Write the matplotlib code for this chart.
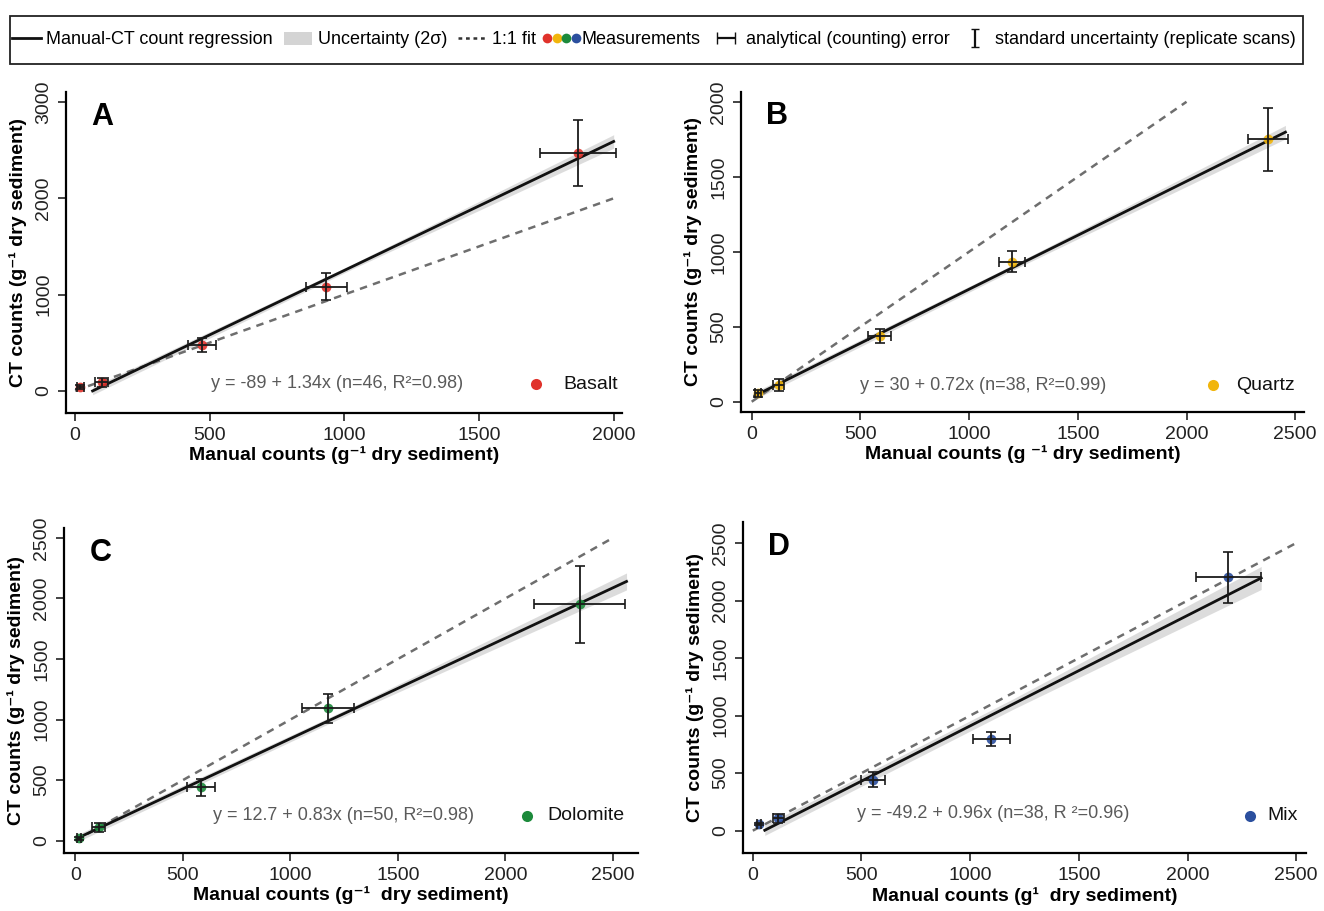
import numpy as np
import matplotlib
matplotlib.use("Agg")
import matplotlib.pyplot as plt
from matplotlib.lines import Line2D
from matplotlib.patches import Patch, Rectangle
from matplotlib.legend_handler import HandlerBase

plt.rcParams["font.family"] = ["Liberation Sans", "DejaVu Sans"]
NARROW = ["Liberation Sans Narrow", "Liberation Sans", "DejaVu Sans"]

# ── Data ────────────────────────────────────────────────────────────────────
panels = ["A", "B", "C", "D"]
materials = ["Basalt", "Quartz", "Dolomite", "Mix"]
colors = ["#e0322b", "#f1b50c", "#1c8a3b", "#2b4f9e"]

manual_A = [20, 99, 471, 933, 1867]
ct_A = [35, 87, 474, 1080, 2470]
xerr_A = [12, 25, 52, 77, 141]
yerr_A = [20, 50, 75, 140, 340]

manual_B = [29, 124, 588, 1198, 2373]
ct_B = [56, 111, 438, 933, 1749]
xerr_B = [15, 25, 51, 61, 92]
yerr_B = [25, 38, 47, 69, 210]

manual_C = [16, 109, 585, 1176, 2345]
ct_C = [19, 110, 440, 1092, 1952]
xerr_C = [10, 30, 65, 120, 211]
yerr_C = [12, 40, 69, 118, 316]

manual_D = [29, 118, 553, 1097, 2188]
ct_D = [58, 107, 441, 798, 2204]
xerr_D = [10, 25, 54, 85, 149]
yerr_D = [12, 40, 65, 59, 222]

# regression: intercept, slope, x-range of the fitted line
intercepts = [-89, 30, 12.7, -49.2]
slopes = [1.34, 0.72, 0.83, 0.96]
fit_x0 = [65, 15, 10, 55]
fit_x1 = [2000, 2455, 2563, 2339]
one_to_one_max = [2000, 2000, 2500, 2500]

# 2-sigma band half widths at start / middle / end of the fitted line
band_hw = [[40, 25, 70], [25, 18, 45], [30, 25, 70], [45, 45, 100]]

equations = [
    "y = -89 + 1.34x (n=46, R²=0.98)",
    "y = 30 + 0.72x (n=38, R²=0.99)",
    "y = 12.7 + 0.83x (n=50, R²=0.98)",
    "y = -49.2 + 0.96x (n=38, R ²=0.96)",
]
xlabels = [
    "Manual counts (g⁻¹ dry sediment)",
    "Manual counts (g ⁻¹ dry sediment)",
    "Manual counts (g⁻¹  dry sediment)",
    "Manual counts (g¹  dry sediment)",
]
ylabel = "CT counts (g⁻¹ dry sediment)"

xticks = [[0, 500, 1000, 1500, 2000], [0, 500, 1000, 1500, 2000, 2500],
          [0, 500, 1000, 1500, 2000, 2500], [0, 500, 1000, 1500, 2000, 2500]]
yticks = [[0, 1000, 2000, 3000], [0, 500, 1000, 1500, 2000],
          [0, 500, 1000, 1500, 2000, 2500], [0, 500, 1000, 1500, 2000, 2500]]
xlims = [(-34, 2031), (-49, 2541), (-53, 2614), (-45, 2545)]
ylims = [(-228, 3105), (-67, 2067), (-99, 2578), (-197, 2685)]

# annotation anchors (data coords): equation x,y ; legend dot x,y ; name x
eq_pos = [(505, 76), (500, 111), (640, 212), (479, 151)]
key_pos = [(1713, 69, 1812), (2122, 111, 2226), (2100, 204, 2193), (2286, 128, 2368)]

# axes rectangles in figure fraction [left, bottom, width, height]
rects = [
    [0.0498, 0.547, 0.420, 0.352],
    [0.5597, 0.548, 0.4253, 0.3513],
    [0.0483, 0.064, 0.4332, 0.356],
    [0.5612, 0.0633, 0.4252, 0.364],
]

data = [
    (manual_A, ct_A, xerr_A, yerr_A),
    (manual_B, ct_B, xerr_B, yerr_B),
    (manual_C, ct_C, xerr_C, yerr_C),
    (manual_D, ct_D, xerr_D, yerr_D),
]


class FourDots(HandlerBase):
    """legend key: the four material colours side by side"""
    def create_artists(self, legend, orig_handle, xdescent, ydescent,
                       width, height, fontsize, trans):
        arts = []
        y = -ydescent + height / 2
        for k, c in enumerate(colors):
            x = -xdescent + width * k / 3.0
            ln = Line2D([x], [y], marker="o", ls="none", color=c, ms=7, mew=0)
            ln.set_transform(trans)
            arts.append(ln)
        return arts


fig = plt.figure(figsize=(13.24, 9.11), dpi=100)

for i in range(4):
    ax = fig.add_axes(rects[i])
    mx, cy, xe, ye = data[i]
    a, b = intercepts[i], slopes[i]

    # uncertainty band
    bx = [fit_x0[i], (fit_x0[i] + fit_x1[i]) / 2, fit_x1[i]]
    by = [a + b * v for v in bx]
    lo = [y - h for y, h in zip(by, band_hw[i])]
    hi = [y + h for y, h in zip(by, band_hw[i])]
    ax.fill_between(bx, lo, hi, color="#d4d4d4", alpha=0.8, lw=0, zorder=1)

    # 1:1 line
    ax.plot([0, one_to_one_max[i]], [0, one_to_one_max[i]], ls=(0, (3, 2.5)),
            color="#6e6e6e", lw=1.8, zorder=2)
    # regression line
    ax.plot([fit_x0[i], fit_x1[i]], [a + b * fit_x0[i], a + b * fit_x1[i]],
            color="#111111", lw=2.0, zorder=3)

    ax.plot(mx, cy, "o", color=colors[i], ms=7, alpha=0.9, mew=0, zorder=4)
    ax.errorbar(mx, cy, xerr=xe, yerr=ye, fmt="none", ecolor="#1a1a1a",
                elinewidth=1.3, capsize=3.5, capthick=1.2, zorder=5)

    ax.text(eq_pos[i][0], eq_pos[i][1], equations[i], family=NARROW,
            fontsize=13, color="#5a5a5a", ha="left", va="center")
    kx, ky, tx = key_pos[i]
    ax.plot([kx], [ky], "o", color=colors[i], ms=8, mew=0)
    ax.text(tx, ky, materials[i], fontsize=14, ha="left", va="center",
            color="#111111")

    ax.text(0.045, 0.97, panels[i], transform=ax.transAxes, fontsize=22,
            fontweight="bold", ha="left", va="top")

    ax.set_xlim(*xlims[i])
    ax.set_ylim(*ylims[i])
    ax.set_xticks(xticks[i])
    ax.set_yticks(yticks[i])
    ax.spines["top"].set_visible(False)
    ax.spines["right"].set_visible(False)
    for sp in ("left", "bottom"):
        ax.spines[sp].set_linewidth(1.6)
    ax.tick_params(length=6, width=1.2, labelsize=14, pad=4, colors="#222222")
    ax.tick_params(axis="y", labelrotation=90)
    for lab in ax.get_yticklabels():
        lab.set_va("center")
    ax.set_xlabel(xlabels[i], fontsize=14, fontweight="bold", labelpad=2)
    ax.set_ylabel(ylabel, fontsize=14, fontweight="bold", labelpad=6)

# ── Top legend ───────────────────────────────────────────────────────────────
h_line = Line2D([], [], color="#111111", lw=2)
h_band = Patch(facecolor="#d4d4d4", edgecolor="none")
h_one = Line2D([], [], color="#333333", lw=1.8, ls=(0, (1.5, 1.5)))
h_dots = Line2D([], [])
dummy = fig.add_axes([0, 0, 0.001, 0.001])
dummy.set_axis_off()
h_xerr = dummy.errorbar([np.nan], [np.nan], xerr=[1], fmt="none", ecolor="#111111",
                        elinewidth=1.6, capsize=4)
h_yerr = dummy.errorbar([np.nan], [np.nan], yerr=[1], fmt="none", ecolor="#111111",
                        elinewidth=1.6, capsize=3)

fig.legend(
    [h_line, h_band, h_one, h_dots, h_xerr, h_yerr],
    ["Manual-CT count regression", "Uncertainty (2σ)", "1:1 fit", "Measurements",
     "analytical (counting) error", "standard uncertainty (replicate scans)"],
    handler_map={h_dots: FourDots()},
    loc="center", bbox_to_anchor=(0.4936, 1 - 40 / 911),
    ncol=6, frameon=False,
    prop={"family": NARROW, "size": 13}, handlelength=1.6, handletextpad=0.3,
    columnspacing=0.6,
)
fig.patches.append(Rectangle((10 / 1324, 1 - 64 / 911), 1293 / 1324, 48 / 911,
                             transform=fig.transFigure, fill=False,
                             edgecolor="#222222", lw=1.3))

plt.savefig("out.png", dpi=100, facecolor="white")
plt.close()
